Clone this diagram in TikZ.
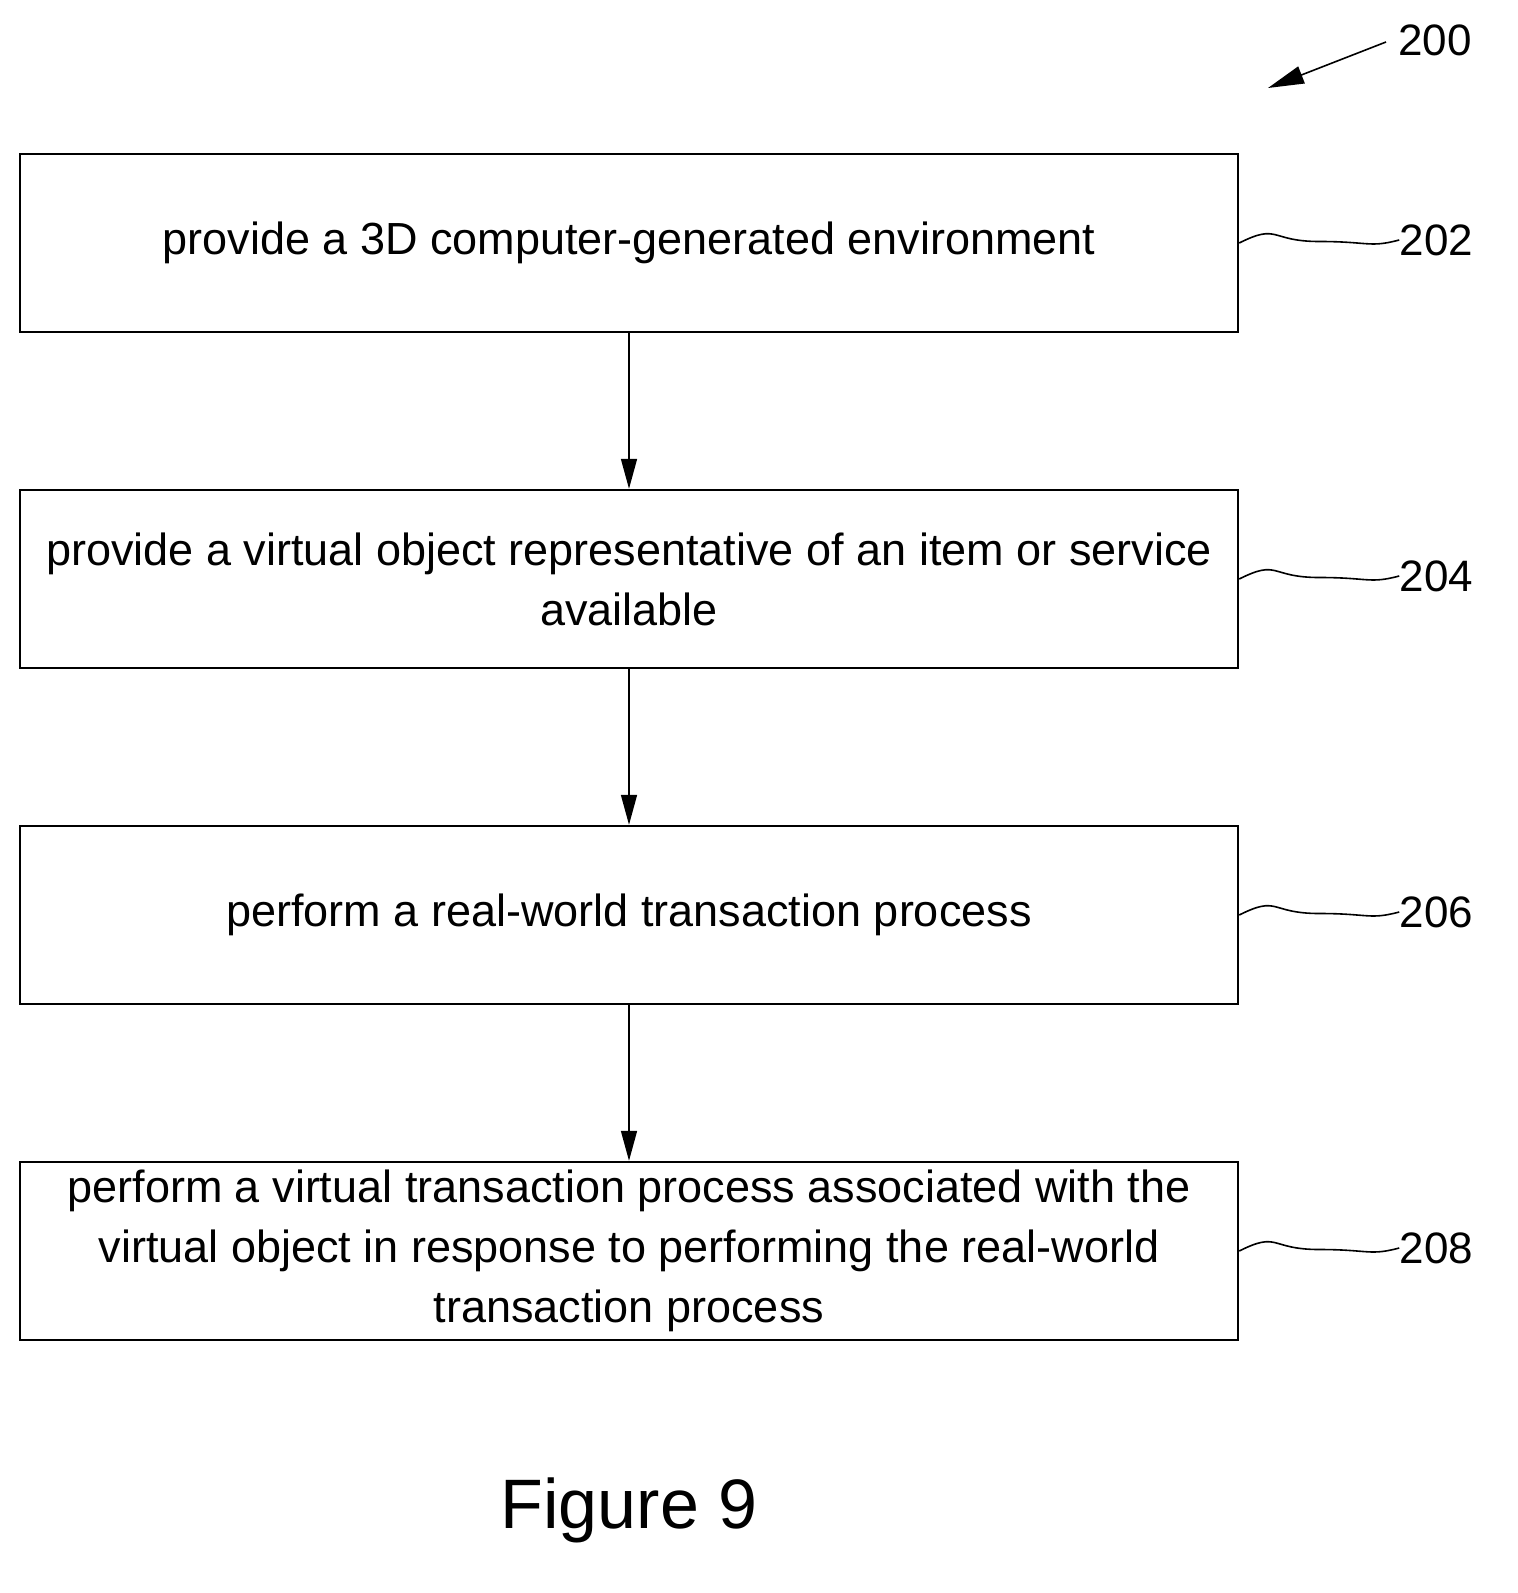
\documentclass[tikz,border=0pt]{standalone}
\usepackage{fontspec}
\setmainfont{Liberation Sans}
\usetikzlibrary{arrows.meta,calc}
\begin{document}
\begin{tikzpicture}[x=0.5pt,y=-0.5pt,
 box/.style={draw,line width=1.2pt,minimum width=609pt,minimum height=89pt,align=center,font=\fontsize{22.5}{30}\selectfont,inner sep=0pt},
 arr/.style={-{Triangle[length=15pt,width=8pt]},line width=0.8pt},
 lab/.style={font=\fontsize{22}{26}\selectfont,anchor=west,inner sep=0pt},
 sq/.style={line width=0.8pt}]
\useasboundingbox (0,0) rectangle (1518,1593);
\node[box] (b1) at (629,243) {provide a 3D computer-generated environment};
\node[box] (b2) at (629,579) {provide a virtual object representative of an item or service\\available};
\node[box] (b3) at (629,915) {perform a real-world transaction process};
\node[box] (b4) at (629,1251) {perform a virtual transaction process associated with the\\virtual object in response to performing the real-world\\transaction process};
\draw[arr] (b1) -- (b2);
\draw[arr] (b2) -- (b3);
\draw[arr] (b3) -- (b4);
\foreach \b/\n in {b1/202,b2/204,b3/206,b4/208}{
 \node[lab] (l\n) at ($(\b.east)+(160,-3)$) {\n};
 \draw[sq] (\b.east) .. controls +(40,-20) and +(-50,0) .. ($(\b.east)!0.5!(l\n.west)$) .. controls +(50,0) and +(-30,8) .. (l\n.west);
}
\node[lab] (l200) at (1398,40) {200};
\coordinate (a200) at (1268,88);
\draw[arr,-{Triangle[length=18pt,width=9pt]}] (l200.west) ++(-12,2) -- (a200);
\node[font=\fontsize{35}{40}\selectfont] (fig) at (629,1510) {Figure 9};
\end{tikzpicture}
\end{document}
